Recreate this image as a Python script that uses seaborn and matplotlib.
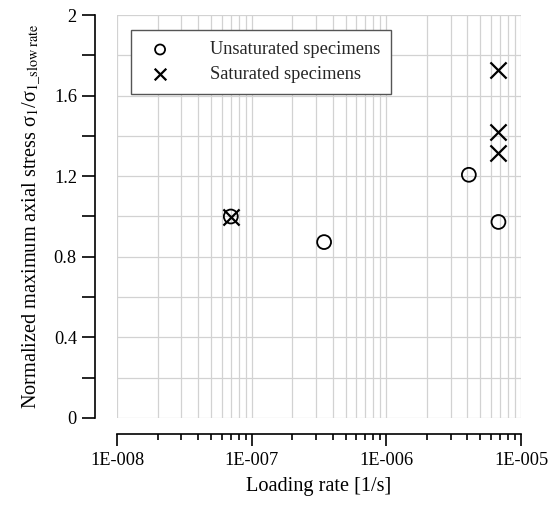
import numpy as np
import matplotlib
matplotlib.use('Agg')
from matplotlib import pyplot as plt
from matplotlib.ticker import MultipleLocator, FixedLocator, FixedFormatter, LogLocator, NullFormatter
import seaborn as sns

sns.set_theme(style='ticks')
plt.rcParams['font.family'] = ['Liberation Serif', 'DejaVu Serif']
plt.rcParams['mathtext.fontset'] = 'stix'

# values
unsat_rate = [7.0e-8, 3.45e-7, 4.1e-6, 6.8e-6]
unsat_stress = [1.0, 0.873, 1.207, 0.973]
sat_rate = [7.0e-8, 6.8e-6, 6.8e-6, 6.8e-6]
sat_stress = [1.0, 1.727, 1.419, 1.316]

xtick_values = [1e-8, 1e-7, 1e-6, 1e-5]
xtick_labels = ['1E-008', '1E-007', '1E-006', '1E-005']
ytick_values = [0, 0.4, 0.8, 1.2, 1.6, 2]
ytick_labels = ['0', '0.4', '0.8', '1.2', '1.6', '2']

fs = 13.2

fig = plt.figure(figsize=(5.55, 5.05), dpi=100)
ax = fig.add_axes([117/555, 87/505, 404/555, 403/505])

sns.scatterplot(x=unsat_rate, y=unsat_stress, marker='o', s=100, color='black',
                facecolors='none', edgecolor='black', linewidth=1.3, ax=ax,
                label='Unsaturated specimens', zorder=3)
sns.scatterplot(x=sat_rate, y=sat_stress, marker='x', s=135, color='black',
                linewidth=1.6, ax=ax, label='Saturated specimens', zorder=3)

ax.set_xscale('log')
ax.set_xlim(1e-8, 1e-5)
ax.set_ylim(0, 2)

ax.xaxis.set_major_locator(FixedLocator(xtick_values))
ax.xaxis.set_major_formatter(FixedFormatter(xtick_labels))
ax.xaxis.set_minor_locator(LogLocator(base=10, subs=np.arange(2, 10)))
ax.xaxis.set_minor_formatter(NullFormatter())
ax.yaxis.set_major_locator(FixedLocator(ytick_values))
ax.yaxis.set_major_formatter(FixedFormatter(ytick_labels))
ax.yaxis.set_minor_locator(MultipleLocator(0.2))

ax.grid(True, which='both', color='#d2d2d2', linewidth=0.9)
ax.set_axisbelow(True)

for s in ['top', 'right']:
    ax.spines[s].set_visible(False)
ax.spines['left'].set_position(('outward', 16))
ax.spines['bottom'].set_position(('outward', 11.3))
for s in ['left', 'bottom']:
    ax.spines[s].set_linewidth(1.2)
    ax.spines[s].set_color('black')

ax.tick_params(axis='x', which='major', direction='out', length=8.8, width=1.2,
               pad=4.5, labelsize=fs, colors='black')
ax.tick_params(axis='x', which='minor', direction='out', length=4.2, width=1.2,
               colors='black')
ax.tick_params(axis='y', which='both', direction='out', length=9.4, width=1.2,
               pad=3.5, labelsize=fs, colors='black')

ax.set_xlabel('Loading rate [1/s]', fontsize=14.6, color='black', labelpad=6)
ax.set_ylabel(r'Normalized maximum axial stress σ$_1$/σ$_{1\_\mathrm{slow\ rate}}$',
              fontsize=14.6, color='black', labelpad=7)

ax.legend(loc='upper left', bbox_to_anchor=(0.034, 0.962), frameon=True, fancybox=False,
          edgecolor='#555555', framealpha=1, borderaxespad=0, handletextpad=1.7,
          borderpad=0.6, labelspacing=0.4, markerscale=0.72, fontsize=fs)
ax.get_legend().get_frame().set_linewidth(1.0)

plt.savefig('out.png', dpi=100)
